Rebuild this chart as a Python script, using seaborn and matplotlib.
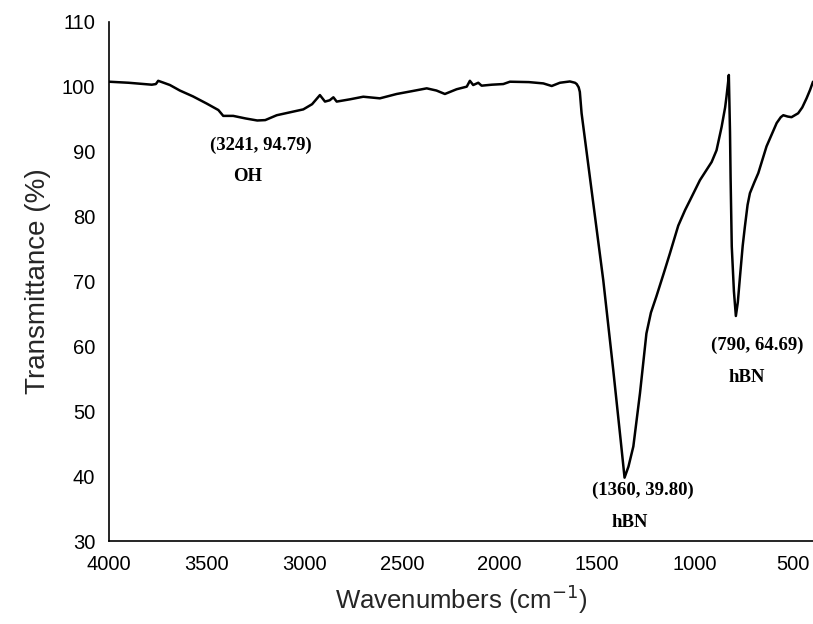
import matplotlib
matplotlib.use("Agg")
import matplotlib.pyplot as plt
import seaborn as sns
import pandas as pd

wavenumber = [4000, 3900, 3781, 3760, 3748, 3720, 3688, 3637, 3570, 3500, 3440, 3415,
              3364, 3300, 3241, 3200, 3141, 3073, 3005, 2960, 2920, 2894, 2870, 2851,
              2834, 2766, 2698, 2613, 2527, 2450, 2373, 2323, 2280, 2220, 2168, 2152,
              2135, 2109, 2092, 2040, 1981, 1947, 1850, 1776, 1733, 1691, 1640, 1614,
              1605, 1595, 1589, 1580, 1469, 1418, 1380, 1360, 1340, 1315, 1281, 1248,
              1225, 1197, 1160, 1128, 1085, 1050, 1025, 974, 914, 889, 863, 845, 838,
              830, 826, 820, 817, 811, 800, 790, 780, 769, 755, 744, 730, 718, 695,
              675, 633, 581, 560, 547, 525, 505, 471, 450, 428, 410, 395]
transmittance = [100.76, 100.6, 100.3, 100.4, 100.9, 100.6, 100.25, 99.4, 98.5, 97.4, 96.4, 95.5,
                 95.5, 95.1, 94.79, 94.85, 95.6, 96.05, 96.5, 97.3, 98.7, 97.7, 97.9, 98.36,
                 97.7, 98.05, 98.45, 98.2, 98.87, 99.3, 99.74, 99.4, 98.87, 99.6, 100.0, 100.9,
                 100.25, 100.6, 100.15, 100.3, 100.4, 100.76, 100.7, 100.5, 100.1, 100.6, 100.8, 100.6,
                 100.4, 99.9, 99.2, 95.9, 70.2, 56.4, 45.6, 39.80, 41.5, 44.6, 52.8, 62.0,
                 65.2, 67.7, 71.2, 74.3, 78.6, 81.0, 82.5, 85.6, 88.4, 90.2, 93.8, 96.8, 98.45,
                 100.6, 101.8, 93.0, 86.0, 75.4, 68.5, 64.69, 66.8, 70.7, 75.5, 78.4, 81.8, 83.6, 85.3,
                 86.7, 90.8, 94.4, 95.3, 95.6, 95.4, 95.3, 95.9, 96.8, 98.2, 99.5, 100.76]

ann_text = ["(3241, 94.79)", "OH", "(1360, 39.80)", "hBN", "(790, 64.69)", "hBN"]
ann_x = [3223, 3288, 1264, 1332, 680, 735]
ann_y = [91.0, 86.1, 37.8, 32.9, 60.1, 55.2]

y_ticks = [30, 40, 50, 60, 70, 80, 90, 100, 110]
x_ticks = [4000, 3500, 3000, 2500, 2000, 1500, 1000, 500]

df = pd.DataFrame({"w": wavenumber, "t": transmittance})

sns.set_style("white")
plt.rcParams['font.family'] = ['Liberation Sans', 'DejaVu Sans']

fig = plt.figure(figsize=(8.13, 6.24), dpi=100)
ax = fig.add_axes([109/813, 1 - 541.3/624, 1 - 109/813, (541.3 - 21.7)/624])

sns.lineplot(data=df, x="w", y="t", sort=False, color="black", linewidth=1.8, ax=ax)

ax.set_xlim(4000, 395)
ax.set_ylim(30, 110)
ax.set_xticks(x_ticks)
ax.set_yticks(y_ticks)
ax.tick_params(direction="out", length=7, width=1.2, labelsize=14.5, colors="black", pad=3)
for s in ["top", "right"]:
    ax.spines[s].set_visible(False)
for s in ["left", "bottom"]:
    ax.spines[s].set_color("black")
    ax.spines[s].set_linewidth(1.2)

ax.set_xlabel("Wavenumbers (cm$^{-1}$)", fontsize=18.5, labelpad=6)
ax.set_ylabel("Transmittance (%)", fontsize=20, labelpad=8)

for t, x, y in zip(ann_text, ann_x, ann_y):
    ax.text(x, y, t, ha="center", va="center", fontsize=13.5, fontweight="bold",
            family=["Liberation Serif", "DejaVu Serif"], color="black")

fig.savefig("out.png", dpi=100)
